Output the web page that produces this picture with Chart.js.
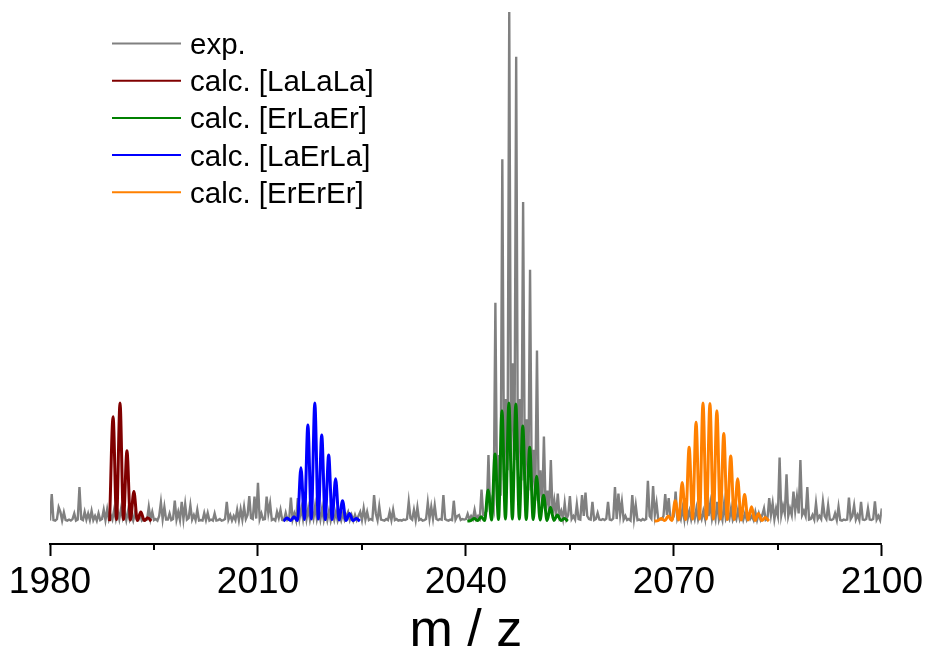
<!DOCTYPE html>
<html>
<head>
<meta charset="utf-8">
<title>m/z spectrum</title>
<script src="https://cdn.jsdelivr.net/npm/chart.js@4.4.1/dist/chart.umd.min.js"></script>
<style>
  html, body { margin: 0; padding: 0; background: #fff; }
  #wrap { width: 928px; height: 651px; }
</style>
</head>
<body>
<div id="wrap"><canvas id="spectrum"></canvas></div>
<script>
// axis
const xMin = 1980;
const xMax = 2100;
const xTickValues = [1980, 2010, 2040, 2070, 2100];
const minorTickValues = [1995, 2025, 2055, 2085];

const seriesLabels = ['exp.', 'calc. [LaLaLa]', 'calc. [ErLaEr]', 'calc. [LaErLa]', 'calc. [ErErEr]'];
const seriesColors = ['#808080', '#800000', '#008000', '#0000ff', '#ff8000'];

// measured spectrum, sampled every 0.25 from 1980
const expStart = 1980;
const expStep = 0.25;
const expIntensity = [
  0.1, 5.3, 0.2, 0.1,  0.4, 2.7, 1.8, 0.1,  1.7, 0.2, 0.1, 0.3,  0.1, 0.4, 1.5, 0.1,  0.3, 6.7, 0.4, 0.2, // 1980
  1.8, 0.3, 1.5, 0.2,  2.0, 0.2, 1.0, 0.1,  1.5, 0.2, 0.4, 2.2,  0.2, 2.3, 0.3, 1.2,  0.3, 2.2, 0.4, 2.0, // 1985
  0.4, 2.4, 0.6, 1.8,  0.2, 2.0, 0.3, 1.2,  0.1, 1.6, 0.4, 0.2,  1.2, 0.1, 0.4, 0.2,  0.3, 2.8, 0.4, 1.8, // 1990
  0.2, 0.4, 0.1, 1.0,  3.7, 0.4, 2.8, 0.3,  0.3, 1.5, 0.2, 0.4,  4.0, 0.3, 1.8, 0.2,  3.8, 0.4, 3.3, 0.3, // 1995
  0.6, 3.1, 0.3, 1.2,  0.2, 2.2, 0.1, 0.2,  0.1, 1.6, 0.2, 1.6,  0.1, 0.3, 0.1, 1.5,  0.1, 0.2, 0.4, 0.1, // 2000
  0.2, 0.4, 3.8, 0.3,  1.2, 0.1, 1.0, 0.2,  2.2, 0.2, 2.3, 0.3,  2.8, 0.4, 1.2, 4.9,  0.6, 0.4, 4.8, 0.5, // 2005
  7.5, 0.4, 1.5, 0.3,  0.4, 4.8, 1.5, 3.5,  0.2, 0.4, 0.1, 1.8,  0.6, 2.2, 0.2, 0.1,  1.6, 0.2, 0.4, 4.6, // 2010
  0.3, 1.5, 0.2, 4.5,  0.6, 2.5, 0.4, 3.0,  0.4, 2.5, 0.3, 2.0,  0.5, 3.0, 0.4, 2.0,  0.3, 2.5, 0.2, 1.8, // 2015
  0.2, 2.0, 0.1, 1.5,  0.2, 1.8, 0.1, 1.2,  0.1, 1.5, 0.2, 1.0,  1.8, 0.2, 1.2, 0.1,  1.2, 0.2, 1.0, 1.8, // 2020
  0.2, 2.5, 0.3, 1.8,  0.2, 0.4, 0.2, 5.1,  1.5, 0.2, 2.9, 0.3,  0.2, 0.1, 0.4, 0.2,  1.8, 0.2, 2.2, 0.2, // 2025
  0.4, 0.1, 0.2, 0.1,  0.3, 0.2, 0.4, 3.8,  0.6, 0.3, 2.2, 0.2,  2.7, 0.2, 0.4, 0.1,  0.2, 0.4, 3.6, 0.5, // 2030
  2.8, 0.5, 3.1, 0.4,  0.2, 0.4, 0.3, 5.1,  0.4, 0.2, 0.1, 0.3,  0.2, 4.0, 0.3, 1.0,  1.2, 0.2, 0.4, 0.3, // 2035
  0.4, 1.4, 0.3, 1.0,  0.4, 2.2, 0.4, 1.0,  0.5, 6.2, 1.2, 1.5,  2.0, 13.0, 2.0, 4.0,  2.5, 42.9, 3.0, 13.0, // 2040
  5.0, 71.1, 8.0, 24.0,  10.0, 100, 12.0, 31.0,  12.0, 91.2, 10.0, 24.0,  8.0, 62.7, 8.0, 20.0,  6.0, 49.4, 6.0, 14.0, // 2045
  4.0, 33.5, 4.0, 10.0,  2.5, 16.6, 2.5, 6.0,  1.5, 12.0, 1.5, 4.0,  1.0, 5.4, 1.0, 2.0,  0.4, 3.5, 0.4, 1.2, // 2050
  4.9, 0.4, 1.0, 0.3,  3.3, 0.4, 0.3, 5.1,  1.0, 5.6, 1.0, 0.4,  0.3, 3.8, 0.2, 0.4,  1.6, 0.3, 0.2, 0.4, // 2055
  0.2, 0.5, 3.8, 0.3,  0.2, 0.5, 6.7, 0.4,  5.4, 1.2, 3.8, 0.3,  1.0, 0.2, 0.4, 0.1,  5.1, 0.5, 3.1, 0.2, // 2060
  0.3, 0.1, 0.4, 0.2,  0.4, 7.9, 1.0, 0.5,  6.9, 1.2, 3.5, 0.3,  0.4, 0.3, 1.0, 5.3,  1.2, 4.5, 0.4, 0.3, // 2065
  1.0, 5.8, 0.5, 1.5,  0.4, 2.5, 0.4, 4.5,  0.5, 2.0, 0.3, 1.8,  0.4, 2.5, 0.3, 1.5,  0.4, 2.0, 0.5, 6.8, // 2070
  1.0, 3.5, 0.4, 2.0,  0.4, 3.8, 0.3, 1.5,  0.2, 3.5, 0.4, 1.2,  0.4, 2.5, 0.2, 1.0,  0.3, 2.2, 0.4, 1.5, // 2075
  0.2, 1.5, 0.3, 1.2,  0.4, 1.0, 0.2, 1.8,  0.2, 1.5, 0.3, 1.2,  2.5, 0.2, 0.4, 4.5,  1.2, 3.5, 0.4, 2.5, // 2080
  1.0, 12.5, 1.2, 3.0,  1.5, 9.2, 1.0, 2.5,  1.2, 5.8, 2.0, 4.8,  1.5, 12.0, 1.2, 2.0,  1.0, 6.7, 0.3, 0.4, // 2085
  1.2, 0.3, 3.5, 0.4,  1.0, 0.4, 3.8, 1.0,  0.4, 3.1, 0.3, 0.2,  0.4, 1.5, 0.2, 2.8,  0.2, 0.1, 0.3, 0.2, // 2090
  0.3, 4.6, 0.4, 1.0,  3.1, 0.3, 1.2, 0.2,  3.8, 0.3, 0.2, 0.4,  2.5, 0.3, 0.2, 0.4,  3.9, 0.3, 1.0, 0.2, // 2095
  2.5
];

// calculated isotope patterns, peak tops and valleys every 0.5
const calcStep = 0.5;
const laLaLaStart = 1988.6;
const laLaLa = [0, 20.5, 0.3, 23.2, 0.3, 13.8, 0.2, 5.8, 0.1, 1.8, 0.1, 0.65, 0];

const erLaErStart = 2040.2;
const erLaEr = [0, 0.1, 0.5, 0.1, 0.85, 0.1, 6.1, 0.2, 13.2, 0.3, 21.7, 0.4, 23.2, 0.4, 23.0, 0.4,
  18.7, 0.3, 14.5, 0.3, 8.8, 0.2, 5.1, 0.1, 2.7, 0.1, 1.2, 0.1, 0.5, 0];

const laErLaStart = 2013.7;
const laErLa = [0, 0.6, 0.1, 0.85, 0.1, 10.5, 0.3, 18.9, 0.4, 23.2, 0.4, 16.9, 0.3, 13.0, 0.3,
  8.3, 0.2, 4.0, 0.1, 1.5, 0.1, 0.5, 0];

const erErErStart = 2067.2;
const erErEr = [0, 0.1, 0.5, 0.1, 1.0, 0.1, 4.0, 0.2, 7.6, 0.3, 14.5, 0.4, 19.4, 0.4, 23.2, 0.4,
  23.1, 0.4, 21.7, 0.4, 17.2, 0.3, 12.8, 0.3, 8.3, 0.2, 5.2, 0.2, 2.8, 0.1, 1.5, 0.1, 0.7, 0];

const FONT = 'Arial, "Liberation Sans", sans-serif';

const toPoints = (start, step, values) => values.map((y, i) => ({ x: start + i * step, y: y }));

const calcDataset = (idx, start, values) => ({
  label: seriesLabels[idx],
  data: toPoints(start, calcStep, values),
  borderColor: seriesColors[idx],
  borderWidth: 3,
  pointRadius: 0,
  cubicInterpolationMode: 'monotone',
  order: 0
});

// legend drawn inside the plot, top left
const insetLegend = {
  id: 'insetLegend',
  afterDraw(chart, args, opts) {
    const ctx = chart.ctx;
    ctx.save();
    ctx.font = opts.font;
    ctx.textBaseline = 'alphabetic';
    chart.data.datasets.forEach((ds, i) => {
      const y = opts.top + i * opts.rowGap;
      ctx.strokeStyle = ds.borderColor;
      ctx.lineWidth = 2;
      ctx.beginPath();
      ctx.moveTo(opts.x, y);
      ctx.lineTo(opts.x + opts.lineLength, y);
      ctx.stroke();
      ctx.fillStyle = '#000';
      ctx.fillText(ds.label, opts.x + opts.lineLength + opts.gap, y + opts.textDrop);
    });
    ctx.restore();
  }
};

// short ticks half way between the labelled ones
const minorTicks = {
  id: 'minorTicks',
  afterDraw(chart, args, opts) {
    const scale = chart.scales.x;
    const ctx = chart.ctx;
    ctx.save();
    ctx.strokeStyle = '#000';
    ctx.lineWidth = 2;
    minorTickValues.forEach(v => {
      const px = Math.round(scale.getPixelForValue(v));
      ctx.beginPath();
      ctx.moveTo(px, scale.top);
      ctx.lineTo(px, scale.top + opts.length);
      ctx.stroke();
    });
    ctx.restore();
  }
};

new Chart(document.getElementById('spectrum'), {
  type: 'line',
  data: {
    datasets: [
      {
        label: seriesLabels[0],
        data: toPoints(expStart, expStep, expIntensity),
        borderColor: seriesColors[0],
        borderWidth: 2.4,
        pointRadius: 0,
        tension: 0,
        order: 1
      },
      calcDataset(1, laLaLaStart, laLaLa),
      calcDataset(2, erLaErStart, erLaEr),
      calcDataset(3, laErLaStart, laErLa),
      calcDataset(4, erErErStart, erErEr)
    ]
  },
  options: {
    responsive: true,
    maintainAspectRatio: false,
    animation: false,
    events: [],
    layout: {
      padding: { top: 8, left: 50, right: 46, bottom: 0 }
    },
    scales: {
      x: {
        type: 'linear',
        min: xMin,
        max: xMax,
        afterBuildTicks: scale => { scale.ticks = xTickValues.map(v => ({ value: v })); },
        afterFit: scale => { scale.height = 107; },
        ticks: {
          callback: v => String(v),
          font: { family: FONT, size: 37 },
          color: '#000',
          padding: 5,
          maxRotation: 0,
          autoSkip: false
        },
        grid: {
          drawOnChartArea: false,
          drawTicks: true,
          tickLength: 12,
          tickWidth: 2,
          tickColor: '#000'
        },
        border: { display: true, color: '#000', width: 2 },
        title: {
          display: true,
          text: 'm / z',
          color: '#000',
          font: { family: FONT, size: 52, lineHeight: 1 },
          padding: { top: 0, bottom: -7 }
        }
      },
      y: {
        display: false,
        min: -4.5,
        max: 100.8
      }
    },
    plugins: {
      legend: { display: false },
      tooltip: { enabled: false },
      insetLegend: {
        x: 112,
        top: 43.5,
        rowGap: 37.2,
        lineLength: 69,
        gap: 9,
        textDrop: 10.5,
        font: '29.5px ' + FONT
      },
      minorTicks: { length: 6 }
    }
  },
  plugins: [insetLegend, minorTicks]
});
</script>
</body>
</html>
